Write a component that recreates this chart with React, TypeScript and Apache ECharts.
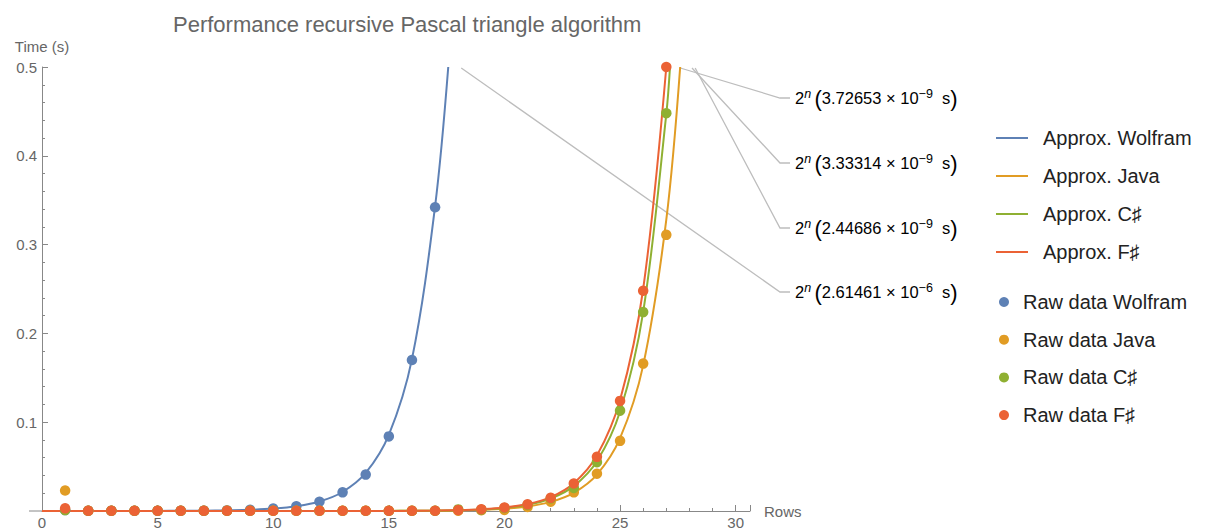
import React, { useEffect, useRef } from "react";
import * as echarts from "echarts";

// ---------- data ----------
const rawRows = [1, 2, 3, 4, 5, 6, 7, 8, 9, 10, 11, 12, 13, 14, 15, 16, 17, 18, 19, 20, 21, 22, 23, 24, 25, 26, 27];
const rawWolfram = [0.001, 0.0003, 0.0003, 0.0003, 0.0003, 0.0003, 0.0004, 0.0007, 0.0013, 0.0027, 0.0054, 0.0105, 0.021, 0.041, 0.084, 0.17, 0.342];
const rawJava = [0.023, 0.0002, 0.0002, 0.0002, 0.0002, 0.0002, 0.0002, 0.0002, 0.0002, 0.0002, 0.0002, 0.0002, 0.0002, 0.0002, 0.0002, 0.0002, 0.0002, 0.0004, 0.0008, 0.0012, 0.0045, 0.0105, 0.021, 0.042, 0.079, 0.166, 0.311];
const rawCSharp = [0.001, 0.0002, 0.0002, 0.0002, 0.0002, 0.0002, 0.0002, 0.0002, 0.0002, 0.0002, 0.0002, 0.0002, 0.0002, 0.0002, 0.0002, 0.0002, 0.0003, 0.0018, 0.0015, 0.0033, 0.0068, 0.014, 0.026, 0.055, 0.113, 0.224, 0.448];
const rawFSharp = [0.003, 0.0002, 0.0002, 0.0002, 0.0002, 0.0002, 0.0002, 0.0002, 0.0002, 0.0002, 0.0002, 0.0002, 0.0002, 0.0002, 0.0002, 0.0002, 0.0003, 0.001, 0.002, 0.004, 0.0075, 0.0148, 0.031, 0.061, 0.124, 0.248, 0.5];

const approxRows = [0, 1, 2, 3, 4, 5, 6, 7, 8, 9, 10, 11, 12, 13, 14, 15, 16, 17, 18, 19, 20, 21, 22, 23, 24, 25, 26, 27];
const approxWolfram = [0, 0, 0, 0, 0, 0.0001, 0.0002, 0.0003, 0.0007, 0.0013, 0.0027, 0.0054, 0.0107, 0.0214, 0.0428, 0.0857, 0.171, 0.343];
const approxJava = [0, 0, 0, 0, 0, 0, 0, 0, 0, 0, 0, 0, 0, 0, 0, 0.0001, 0.0002, 0.0003, 0.0006, 0.0013, 0.0026, 0.0051, 0.0103, 0.0205, 0.041, 0.082, 0.164, 0.328];
const approxCSharp = [0, 0, 0, 0, 0, 0, 0, 0, 0, 0, 0, 0, 0, 0, 0, 0.0001, 0.0002, 0.0004, 0.0009, 0.0017, 0.0035, 0.007, 0.014, 0.028, 0.056, 0.112, 0.224, 0.447];
const approxFSharp = [0, 0, 0, 0, 0, 0, 0, 0, 0, 0, 0, 0, 0, 0, 0, 0.0001, 0.0002, 0.0005, 0.001, 0.002, 0.0039, 0.0078, 0.0156, 0.0313, 0.0625, 0.125, 0.25, 0.5];
// row at which each fitted curve leaves the plot (value 0.5)
const approxEndRow = [17.57, 27.6, 27.16, 27.0]; // Wolfram, Java, C#, F#
const approxEndValue = 0.5;

const approxNames = ["Approx. Wolfram", "Approx. Java", "Approx. C\u266F", "Approx. F\u266F"];
const rawNames = ["Raw data Wolfram", "Raw data Java", "Raw data C\u266F", "Raw data F\u266F"];

// callouts, top to bottom: F#, C#, Java, Wolfram (index into series arrays)
const calloutSeries = [3, 2, 1, 0];
const calloutCoef = ["3.72653", "3.33314", "2.44686", "2.61461"];
const calloutExp = ["\u22129", "\u22129", "\u22129", "\u22126"];

const xTicks = [0, 5, 10, 15, 20, 25, 30];
const yTicks = [0.1, 0.2, 0.3, 0.4, 0.5];

// ---------- style ----------
const COLORS = ["#5E81B5", "#E19C24", "#8FB032", "#EB6235"];
const FONT = "'Liberation Sans', Arial, sans-serif";
const GRAY = "#666666";

export default function App() {
  const ref = useRef<HTMLDivElement>(null);

  useEffect(() => {
    document.body.style.margin = "0";
    if (!ref.current) return;
    const chart = echarts.init(ref.current, undefined, { renderer: "svg" });

    const approxVals = [approxWolfram, approxJava, approxCSharp, approxFSharp];
    const rawVals = [rawWolfram, rawJava, rawCSharp, rawFSharp];

    const lineSeries = approxVals.map((vals, i) => {
      const pts: number[][] = vals.map((v, k) => [approxRows[k], v]);
      const last = pts[pts.length - 1];
      if (approxEndRow[i] > last[0]) pts.push([approxEndRow[i], approxEndValue]);
      return {
        name: approxNames[i],
        type: "line",
        data: pts,
        color: COLORS[i],
        showSymbol: false,
        smooth: 0.35,
        lineStyle: { width: 2, color: COLORS[i] },
        z: 2,
      };
    });

    const scatterSeries = rawVals.map((vals, i) => ({
      name: rawNames[i],
      type: "scatter",
      data: vals.map((v, k) => [rawRows[k], v]),
      color: COLORS[i],
      symbolSize: 10.5,
      clip: false,
      itemStyle: { color: COLORS[i], opacity: 1 },
      z: 3 + i,
    }));

    const option: any = {
      animation: false,
      textStyle: { fontFamily: FONT },
      title: {
        text: "Performance recursive Pascal triangle algorithm",
        left: 168,
        top: 8,
        textStyle: { fontFamily: FONT, fontSize: 22, fontWeight: "normal", color: GRAY },
      },
      grid: { left: 42, top: 67, right: 456, bottom: 21, containLabel: false },
      xAxis: {
        type: "value",
        min: 0,
        max: 30.62,
        interval: 5,
        name: "Rows",
        nameLocation: "end",
        nameGap: 14,
        nameTextStyle: { fontFamily: FONT, fontSize: 15, color: GRAY, verticalAlign: "middle" },
        axisLine: { show: true, onZero: true, lineStyle: { color: "#888", width: 1 } },
        axisTick: { show: true, inside: true, length: 6, lineStyle: { color: "#888" } },
        minorTick: { show: true, splitNumber: 5, length: 3, lineStyle: { color: "#888" } },
        axisLabel: {
          fontFamily: FONT, fontSize: 15, color: GRAY, margin: 4,
          formatter: (v: number) => (xTicks.includes(v) ? String(v) : ""),
          showMaxLabel: false,
        },
        splitLine: { show: false },
      },
      yAxis: {
        type: "value",
        min: 0,
        max: 0.5,
        interval: 0.1,
        name: "Time (s)",
        nameLocation: "end",
        nameGap: 13,
        nameTextStyle: { fontFamily: FONT, fontSize: 15, color: GRAY, align: "center" },
        axisLine: { show: true, lineStyle: { color: "#888", width: 1 } },
        axisTick: { show: true, inside: true, length: 6, lineStyle: { color: "#888" } },
        minorTick: { show: true, splitNumber: 5, length: 3, lineStyle: { color: "#888" } },
        axisLabel: {
          fontFamily: FONT, fontSize: 15, color: GRAY, margin: 5,
          formatter: (v: number) => {
            const t = yTicks.find((y) => Math.abs(y - v) < 1e-9);
            return t === undefined ? "" : t.toFixed(1);
          },
        },
        splitLine: { show: false },
      },
      legend: [
        {
          data: approxNames,
          orient: "vertical",
          left: 991,
          top: 123,
          icon: "rect",
          itemWidth: 32,
          itemHeight: 2,
          itemGap: 18,
          selectedMode: false,
          textStyle: { fontFamily: FONT, fontSize: 20, lineHeight: 20, color: "#222", padding: [0, 0, 0, 10] },
        },
        {
          data: rawNames,
          orient: "vertical",
          left: 994,
          top: 287,
          icon: "circle",
          itemWidth: 10,
          itemHeight: 10,
          itemGap: 17.7,
          selectedMode: false,
          textStyle: { fontFamily: FONT, fontSize: 20, lineHeight: 20, color: "#222", padding: [0, 0, 0, 9] },
        },
      ],
      series: [...lineSeries, ...scatterSeries],
    };

    chart.setOption(option);

    // callouts with leader lines (anchored to curve ends via the chart's scales)
    const labelYs = [98, 163, 228, 292];
    const leaderDx = [14, 22, 15, 13];
    const elbowX = 780;
    const labelX = 795;
    const graphics: any[] = [];
    calloutSeries.forEach((si, j) => {
      const p = chart.convertToPixel({ gridIndex: 0 }, [approxEndRow[si], approxEndValue]) as number[];
      graphics.push({
        type: "polyline",
        silent: true,
        shape: { points: [[p[0] + leaderDx[j], p[1] + 1], [elbowX, labelYs[j]], [labelX - 5, labelYs[j]]] },
        style: { stroke: "#bdbdbd", lineWidth: 1.3, fill: null },
        z: 1,
      });
      graphics.push({
        type: "text",
        silent: true,
        x: labelX,
        y: labelYs[j],
        style: {
          text: `{b|2}{n|n} {p|(}{b|${calloutCoef[j]} \u00D7 10}{e|${calloutExp[j]}}{b|  s}{p|)}`,
          verticalAlign: "middle",
          align: "left",
          rich: {
            b: { fontFamily: FONT, fontSize: 16.5, color: "#111", lineHeight: 22 },
            n: { fontFamily: FONT, fontSize: 12.5, fontStyle: "italic", color: "#111", lineHeight: 14, verticalAlign: "top" },
            e: { fontFamily: FONT, fontSize: 12.5, color: "#111", lineHeight: 14, verticalAlign: "top" },
            p: { fontFamily: FONT, fontSize: 22, color: "#333", lineHeight: 22 },
          },
        },
        z: 10,
      });
    });
    // short extension of the x axis left of the origin
    const o = chart.convertToPixel({ gridIndex: 0 }, [0, 0]) as number[];
    graphics.push({
      type: "line",
      silent: true,
      shape: { x1: o[0] - 13, y1: o[1], x2: o[0], y2: o[1] },
      style: { stroke: "#888", lineWidth: 1 },
    });
    chart.setOption({ graphic: graphics });

    return () => chart.dispose();
  }, []);

  return <div ref={ref} style={{ width: 1206, height: 532 }} />;
}
